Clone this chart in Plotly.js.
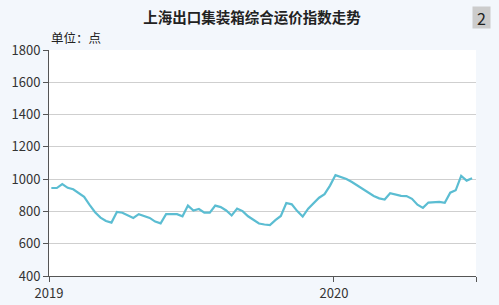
<!DOCTYPE html>
<html><head><meta charset="utf-8">
<script src="https://cdn.plot.ly/plotly-3.0.1.min.js"></script>
<style>html,body{margin:0;padding:0;background:#f3f7fc;}#c{width:499px;height:305px;}</style>
</head><body><div id="c"></div>
<script>
const dates = [
 '2019-01-04','2019-01-11','2019-01-18','2019-01-25','2019-02-01','2019-02-08','2019-02-15','2019-02-22',
 '2019-03-01','2019-03-08','2019-03-15','2019-03-22','2019-03-29','2019-04-05','2019-04-12','2019-04-19','2019-04-26',
 '2019-05-03','2019-05-10','2019-05-17','2019-05-24','2019-05-31','2019-06-07','2019-06-14','2019-06-21','2019-06-28',
 '2019-07-05','2019-07-12','2019-07-19','2019-07-26','2019-08-02','2019-08-09','2019-08-16','2019-08-23','2019-08-30',
 '2019-09-06','2019-09-13','2019-09-20','2019-09-27','2019-10-04','2019-10-11','2019-10-18','2019-10-25',
 '2019-11-01','2019-11-08','2019-11-15','2019-11-22','2019-11-29','2019-12-06','2019-12-13','2019-12-20','2019-12-27',
 '2020-01-03','2020-01-10','2020-01-17','2020-01-24','2020-01-31','2020-02-07','2020-02-14','2020-02-21','2020-02-28',
 '2020-03-06','2020-03-13','2020-03-20','2020-03-27','2020-04-03','2020-04-10','2020-04-17','2020-04-24',
 '2020-05-01','2020-05-08','2020-05-15','2020-05-22','2020-05-29','2020-06-05','2020-06-12','2020-06-19','2020-06-26'
];
const indexValues = [
 945,945,970,946,937,915,890,840,
 795,762,741,731,797,792,778,760,783,
 773,760,737,726,783,783,783,770,836,
 806,815,792,792,836,827,806,775,817,
 802,770,745,725,719,716,746,772,
 852,844,802,768,817,850,885,907,960,
 1025,1015,1001,982,961,942,922,896,881,
 874,913,905,896,895,878,842,822,
 855,859,859,853,916,931,1020,991,1006
];
const yTicks = [400,600,800,1000,1200,1400,1600,1800];
const xTickVals = ['2019-01-01','2020-01-01','2020-07-01'];
const xTickText = ['2019','2020',''];
const chartTitle = '上海出口集装箱综合运价指数走势';
const unitLabel = '单位：点';
const badgeText = '2';

const font = 'Noto Sans CJK SC, Noto Sans, sans-serif';
Plotly.newPlot('c', [{
  x: dates, y: indexValues, type: 'scatter', mode: 'lines',
  line: {color: '#5bbdd2', width: 2.2}, hoverinfo: 'skip'
}], {
  width: 499, height: 305,
  margin: {l: 49, r: 23, t: 50, b: 29},
  paper_bgcolor: '#f3f7fc', plot_bgcolor: '#ffffff',
  showlegend: false,
  font: {family: font, size: 13, color: '#333'},
  title: {text: chartTitle, x: 0.505, xanchor: 'center', y: 0.94, yanchor: 'middle',
          font: {family: font, size: 14.5, color: '#222', weight: 'bold'}},
  xaxis: {type: 'date', range: ['2019-01-01','2020-07-01'],
          tickvals: xTickVals, ticktext: xTickText,
          showgrid: false, zeroline: false, showline: true, linecolor: '#555', linewidth: 1,
          ticks: 'outside', ticklen: 5, tickcolor: '#555', tickfont: {size: 13, color: '#333'}},
  yaxis: {range: [400, 1800], tickvals: yTicks, showgrid: true, gridcolor: '#cfcfcf', gridwidth: 1,
          zeroline: false, showline: true, linecolor: '#555', linewidth: 1,
          ticks: 'outside', ticklen: 5, tickcolor: '#555', tickfont: {size: 13, color: '#333'}},
  annotations: [
    {text: unitLabel, xref: 'paper', yref: 'paper', x: 0.0, y: 1.0, xanchor: 'left', yanchor: 'bottom',
     yshift: 1, showarrow: false, font: {family: font, size: 12.5, color: '#222'}},
    {text: badgeText, xref: 'paper', yref: 'paper', x: 1.013, y: 1.144, xanchor: 'center', yanchor: 'middle',
     showarrow: false, bgcolor: '#cccccc', width: 15, height: 19, font: {family: font, size: 16, color: '#222'}}
  ]
}, {displayModeBar: false, staticPlot: true});
</script></body></html>
